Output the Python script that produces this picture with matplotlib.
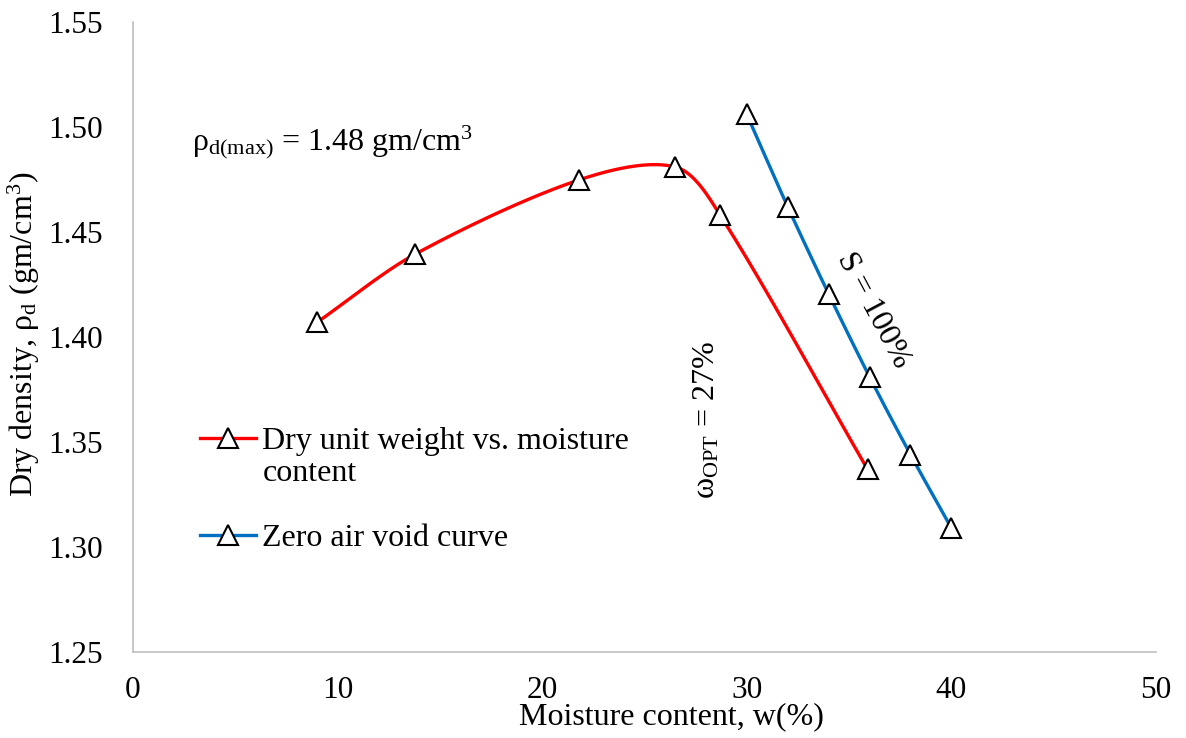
import numpy as np
import matplotlib
matplotlib.use("Agg")
import matplotlib.pyplot as plt
from matplotlib.lines import Line2D

plt.rcParams["font.family"] = ["Liberation Serif", "DejaVu Serif"]
plt.rcParams["mathtext.fontset"] = "custom"
plt.rcParams["mathtext.rm"] = "Liberation Serif"
plt.rcParams["mathtext.it"] = "Liberation Serif:italic"

# compaction test
moisture = [9.0, 13.8, 21.8, 26.5, 28.7, 35.9]
dry_density = [1.407, 1.4395, 1.4748, 1.481, 1.458, 1.337]

# zero air void curve
zav_moisture = [30, 32, 34, 36, 38, 40]
zav_density = [1.506, 1.462, 1.4205, 1.381, 1.344, 1.309]

x_ticks = [0, 10, 20, 30, 40, 50]
y_ticks = [1.25, 1.30, 1.35, 1.40, 1.45, 1.50, 1.55]


def smooth(x, y, ax, n=40, k=0.3):
    # bezier smoothing done in screen space so the curve doesn't loop
    pts = ax.transData.transform(np.column_stack([x, y]))
    p = np.vstack([pts[0], pts, pts[-1]])
    t = np.linspace(0, 1, n)[:, None]
    out = []
    for i in range(1, len(p) - 2):
        p0, p3 = p[i], p[i + 1]
        L = np.hypot(*(p3 - p0))
        d0 = p[i + 1] - p[i - 1]
        d1 = p[i + 2] - p[i]
        p1 = p0 + d0 / np.hypot(*d0) * L * k
        p2 = p3 - d1 / np.hypot(*d1) * L * k
        seg = ((1 - t) ** 3) * p0 + 3 * ((1 - t) ** 2) * t * p1 + 3 * (1 - t) * t ** 2 * p2 + t ** 3 * p3
        out.append(seg)
    out = ax.transData.inverted().transform(np.vstack(out))
    return out[:, 0], out[:, 1]


fig = plt.figure(figsize=(11.86, 7.38), dpi=100)
ax = fig.add_axes([133 / 1186, 1 - 652 / 738, 1023 / 1186, 630 / 738])
ax.set_xlim(0, 50)
ax.set_ylim(1.25, 1.55)

red = "#ff0000"
blue = "#0070c0"
mk = dict(marker="^", markersize=14, markerfacecolor="white", markeredgecolor="black",
          markeredgewidth=1.5, linestyle="none", zorder=4)

sx, sy = smooth(moisture, dry_density, ax)
ax.plot(sx, sy, color=red, lw=2.4, zorder=3)
ax.plot(moisture, dry_density, **mk)

zx, zy = smooth(zav_moisture, zav_density, ax)
ax.plot(zx, zy, color=blue, lw=2.4, zorder=3)
ax.plot(zav_moisture, zav_density, **mk)

ax.set_xlim(0, 50)
ax.set_ylim(1.25, 1.55)
ax.set_xticks(x_ticks)
ax.set_yticks(y_ticks)
ax.set_yticklabels([f"{v:.2f}" for v in y_ticks])
ax.tick_params(length=0, labelsize=22.5)
ax.tick_params(axis="y", pad=22)
ax.tick_params(axis="x", pad=17.5)
for s in ["top", "right"]:
    ax.spines[s].set_visible(False)
for s in ["left", "bottom"]:
    ax.spines[s].set_color("#bfbfbf")
    ax.spines[s].set_linewidth(1.2)

fs = 23
ax.set_xlabel("Moisture content, w(%)", fontsize=fs, va="center")
ax.xaxis.set_label_coords(0.526, -0.103)
ax.set_ylabel(r"Dry density, $\mathrm{\rho_d}$ (gm/cm$^3$)", fontsize=fs, va="center")
ax.yaxis.set_label_coords(-0.107, 0.505)

ax.text(2.9, 1.493, r"$\mathrm{\rho_{d(max)}}$ = 1.48 gm/cm$^3$", fontsize=fs, ha="left", va="center")
ax.text(28.05, 1.3605, r"$\mathrm{\omega_{OPT}}$ = 27%", fontsize=fs, ha="center", va="center", rotation=90)
ax.text(36.2, 1.4129, "S = 100%", fontsize=fs, ha="center", va="center", rotation=-62)

handles = [
    Line2D([], [], color=red, lw=2.4, marker="^", markersize=14, markerfacecolor="white",
           markeredgecolor="black", markeredgewidth=1.5),
    Line2D([], [], color="none"),
    Line2D([], [], color="none"),
    Line2D([], [], color=blue, lw=2.4, marker="^", markersize=14, markerfacecolor="white",
           markeredgecolor="black", markeredgewidth=1.5),
]
labels = ["Dry unit weight vs. moisture", "content", " ", "Zero air void curve"]
ax.legend(handles, labels, loc="upper left", bbox_to_anchor=(0.0655, 0.358), frameon=False,
          fontsize=fs, handlelength=1.75, handletextpad=0.2, labelspacing=0.1, borderpad=0,
          borderaxespad=0)

fig.savefig("out.png", dpi=100)
